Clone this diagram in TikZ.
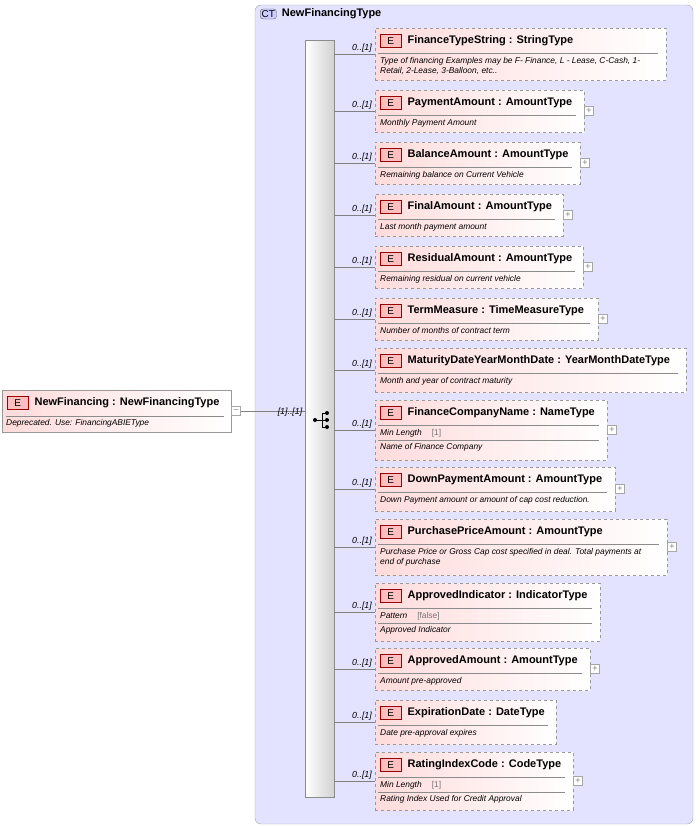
\documentclass[tikz,border=0pt]{standalone}
\usepackage{fontspec}
\setmainfont{Liberation Sans}
\usetikzlibrary{positioning}
\begin{document}
\begin{tikzpicture}[x=1pt, y=-1pt]
        \tikzstyle{ctbox} = [draw=black!35, rounded corners=6pt, fill=blue!11]
        \tikzstyle{elem} = [draw=black!40, dashed, left color=red!14, right color=white, inner sep=0pt]
        \tikzstyle{badge} = [draw=red!60!black, fill=red!25, minimum width=21pt, minimum height=13pt, inner sep=0pt, font=\fontsize{10}{11}\selectfont]
        \tikzstyle{title} = [font=\bfseries\fontsize{11}{12}\selectfont, inner sep=0pt]
        \tikzstyle{doc} = [font=\itshape\fontsize{8.4}{10.2}\selectfont, inner sep=0pt, align=left]
        \tikzstyle{card} = [font=\itshape\fontsize{8.8}{9}\selectfont, inner sep=1pt]
        \tikzstyle{pm} = [draw=black!35, fill=white, minimum size=9pt, inner sep=0pt, font=\fontsize{9}{9}\selectfont, text=black!50]
        \tikzstyle{sepline} = [black!45]
        \useasboundingbox (0,0) rectangle (700,827);

        % complex type frame
        \draw[ctbox] (255,5) rectangle (693,824);
        \node (ct) [draw=black!60, rounded corners=3pt, fill=blue!20, inner sep=1.5pt, font=\fontsize{10}{11}\selectfont, anchor=west] at (260,14) {CT};
        \node (ctname) [title, right=5pt of ct] {NewFinancingType};

        % sequence bar
        \node (seq) [draw=black!45, left color=white, right color=black!18, minimum width=29pt, minimum height=757pt, inner sep=0pt, anchor=north west] at (305,40) {};
        \fill (315,420) circle (2pt);
        \draw (315,420) -- (322,420);
        \draw (322,413) -- (322,427);
        \foreach \yy in {413,420,427} {
            \draw (322,\yy) -- (327,\yy);
            \fill (327,\yy) circle (2pt);
        }

        % root element
        \node (root) [elem, solid, minimum width=229pt, minimum height=42pt, anchor=north west] at (2,390) {};
        \node (root-e) [badge, anchor=north west] at (7,396) {E};
        \node (root-t) [title, right=6pt of root-e] {NewFinancing : NewFinancingType};
        \draw[sepline] (6,416) -- (224,416);
        \node[doc, anchor=north west] at (6,419) {Deprecated. Use: FinancingABIEType};
        \node (root-pm) [pm] at (236,411) {--};
        \draw[black!50] (root-pm.east) -- (seq.west |- root-pm.east);
        \node[card] at (290,412) {[1]..[1]};

        % child elements
        \foreach \n/\t/\b/\r/\ti/\fa/\dc/\pl in {
            fts/28/80/666/{FinanceTypeString : StringType}//{Type of financing Examples may be F- Finance, L - Lease, C-Cash, 1-\\Retail, 2-Lease, 3-Balloon, etc..}/0,
            pay/90/132/584/{PaymentAmount : AmountType}//{Monthly Payment Amount}/1,
            bal/142/184/580/{BalanceAmount : AmountType}//{Remaining balance on Current Vehicle}/1,
            fin/194/236/563/{FinalAmount : AmountType}//{Last month payment amount}/1,
            res/246/288/583/{ResidualAmount : AmountType}//{Remaining residual on current vehicle}/1,
            term/298/340/598/{TermMeasure : TimeMeasureType}//{Number of months of contract term}/1,
            mat/348/392/686/{MaturityDateYearMonthDate : YearMonthDateType}//{Month and year of contract maturity}/0,
            fcn/400/460/607/{FinanceCompanyName : NameType}/{Min Length}/{Name of Finance Company}/1,
            down/467/511/615/{DownPaymentAmount : AmountType}//{Down Payment amount or amount of cap cost reduction.}/1,
            pur/519/575/667/{PurchasePriceAmount : AmountType}//{Purchase Price or Gross Cap cost specified in deal. Total payments at\\end of purchase}/1,
            appi/583/641/600/{ApprovedIndicator : IndicatorType}/{Pattern}/{Approved Indicator}/0,
            appa/648/690/590/{ApprovedAmount : AmountType}//{Amount pre-approved}/1,
            exp/700/744/556/{ExpirationDate : DateType}//{Date pre-approval expires}/0,
            rate/752/810/573/{RatingIndexCode : CodeType}/{Min Length}/{Rating Index Used for Credit Approval}/1} {
            \node (\n) [elem, minimum width={(\r-375)*1pt}, minimum height={(\b-\t)*1pt}, anchor=north west] at (375,\t) {};
            \node (\n-e) [badge, anchor=north west] at (380,\t+6) {E};
            \node (\n-t) [title, right=6pt of \n-e] {\ti};
            \draw[sepline] (378,\t+25) -- (\r-8,\t+25);
            \ifx\fa\empty
                \node[doc, anchor=north west] at (380,\t+29) {\dc};
            \else
                \node[doc, anchor=west] at (380,\t+33) {\fa\hspace{10pt}{\upshape\color{black!55}[\ifnum\pl=1 1\else false\fi]}};
                \draw[sepline] (378,\t+40) -- (\r-8,\t+40);
                \node[doc, anchor=north west] at (380,\t+43) {\dc};
            \fi
            \ifnum\pl=1
                \node (\n-pm) [pm] at (\r+5,\t/2+\b/2) {+};
            \fi
            \draw[black!50] (seq.east |- \n.west) -- (\n.west);
            \node[card, anchor=south east] at (373,\t/2+\b/2) {0..[1]};
        }
    \end{tikzpicture}
\end{document}
